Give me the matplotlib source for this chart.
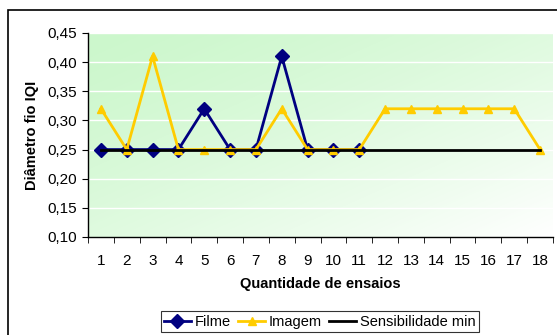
import numpy as np
import matplotlib.pyplot as plt
from matplotlib.patches import Rectangle

plt.rcParams['font.family'] = ['Liberation Sans', 'DejaVu Sans']

# data
ensaios = list(range(1, 19))
filme = [0.25, 0.25, 0.25, 0.25, 0.32, 0.25, 0.25, 0.41, 0.25, 0.25, 0.25]
imagem = [0.32, 0.25, 0.41, 0.25, 0.25, 0.25, 0.25, 0.32, 0.25, 0.25, 0.25,
          0.32, 0.32, 0.32, 0.32, 0.32, 0.32, 0.25]
sensibilidade = [0.25] * 18
y_ticks = [0.10, 0.15, 0.20, 0.25, 0.30, 0.35, 0.40, 0.45]

fig = plt.figure(figsize=(5.57, 3.35), dpi=100)
# outer chart frame (extends past the image on right/bottom)
fig.patches.append(Rectangle((8 / 557, -0.05), 1.2, 1 - 10 / 335 + 0.05,
                             transform=fig.transFigure, fill=False,
                             edgecolor='black', linewidth=1.2))

ax = fig.add_axes([88 / 557, 1 - 237 / 335, (553 - 88) / 557, (237 - 33) / 335])

# green gradient background, green top-left fading to white bottom-right
gx, gy = np.meshgrid(np.linspace(0, 1, 200), np.linspace(0, 1, 200))
t = np.clip((gx + gy) / 2, 0, 1) ** 1.4
c0 = np.array([0.80, 0.97, 0.80])
c1 = np.array([1.0, 1.0, 1.0])
img = c0[None, None, :] * (1 - t[..., None]) + c1[None, None, :] * t[..., None]
ax.imshow(img, extent=[0, 1, 0, 1], transform=ax.transAxes, origin='upper',
          aspect='auto', zorder=0)

for yv in y_ticks[1:]:
    ax.axhline(yv, color='white', linewidth=1, zorder=1)

ax.plot(ensaios[:len(filme)], filme, color='#000080', marker='D', markersize=7,
        linewidth=2, label='Filme', zorder=3)
ax.plot(ensaios, imagem, color='#FFCC00', marker='^', markersize=6,
        linewidth=2, label='Imagem', zorder=4)
ax.plot(ensaios, sensibilidade, color='black', linewidth=2,
        label='Sensibilidade min', zorder=5)

ax.set_xlim(0.5, 18.5)
ax.set_ylim(0.10, 0.45)
ax.set_yticks(y_ticks)
ax.set_yticklabels([f'{v:.2f}'.replace('.', ',') for v in y_ticks])
ax.set_xticks(ensaios)
ax.set_xticks(np.arange(0.5, 19, 1), minor=True)
ax.tick_params(axis='x', which='major', length=0, pad=12, labelsize=11)
ax.tick_params(axis='x', which='minor', length=4, direction='out')
ax.tick_params(axis='y', length=4, direction='out', labelsize=11, pad=4)

for s in ['top', 'right']:
    ax.spines[s].set_visible(False)
ax.spines['left'].set_linewidth(1)
ax.spines['bottom'].set_linewidth(1)

ax.set_ylabel('Diâmetro fio IQI', fontweight='bold', fontsize=10.5, labelpad=6)
ax.set_xlabel('Quantidade de ensaios', fontweight='bold', fontsize=10.5, labelpad=7)

leg = fig.legend(loc='upper center', bbox_to_anchor=(320 / 557, 1 - 311 / 335),
                 ncol=3, frameon=True, fancybox=False, fontsize=10.5,
                 handlelength=1.8, handletextpad=0.3, columnspacing=0.5,
                 borderpad=0.25, borderaxespad=0)
leg.get_frame().set_edgecolor('black')
leg.get_frame().set_linewidth(0.8)

fig.savefig('out.png', dpi=100)
